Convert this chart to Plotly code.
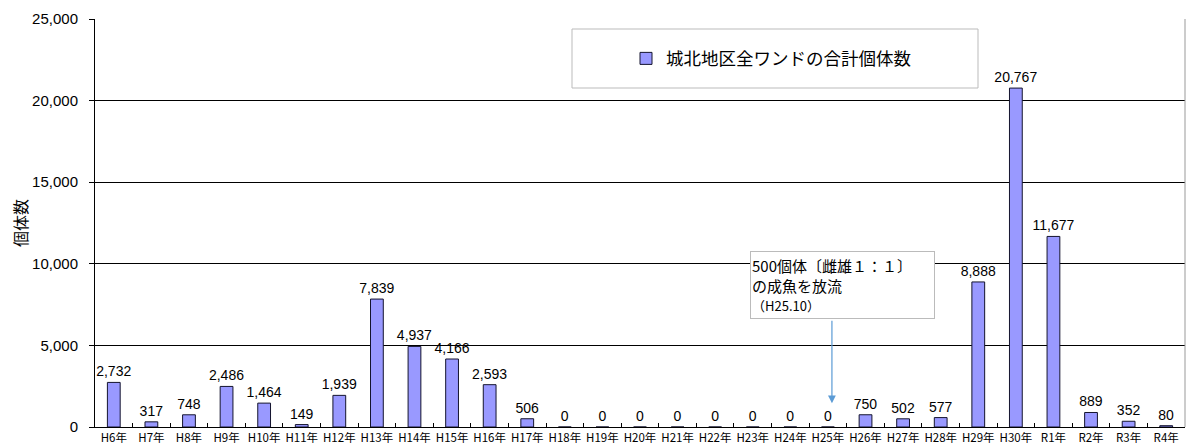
import plotly.graph_objects as go

categories = ["H6年", "H7年", "H8年", "H9年", "H10年", "H11年", "H12年", "H13年", "H14年",
              "H15年", "H16年", "H17年", "H18年", "H19年", "H20年", "H21年", "H22年", "H23年",
              "H24年", "H25年", "H26年", "H27年", "H28年", "H29年", "H30年", "R1年", "R2年",
              "R3年", "R4年"]
counts = [2732, 317, 748, 2486, 1464, 149, 1939, 7839, 4937, 4166, 2593, 506, 0, 0, 0, 0, 0,
          0, 0, 0, 750, 502, 577, 8888, 20767, 11677, 889, 352, 80]
series_name = "城北地区全ワンドの合計個体数"
y_ticks = [0, 5000, 10000, 15000, 20000, 25000]
note_text = "500個体〔雌雄１：１〕<br>の成魚を放流<br><span style='font-size:13px'>（H25.10）</span>"

W, H = 1186, 448
ML, MR, MT, MB = 95, 1, 19, 21
PW, PH = W - ML - MR, H - MT - MB

def px_x(p):
    return (p - ML) / PW

def px_y(p):
    return (H - MB - p) / PH

FONT = "Liberation Sans, Arial, Noto Sans CJK JP, sans-serif"
CJK = "Noto Sans CJK JP, Liberation Sans, sans-serif"

fig = go.Figure()
fig.add_trace(go.Bar(
    x=categories, y=counts, name=series_name,
    width=0.34,
    marker=dict(color="#9999ff", line=dict(color="#14142e", width=1)),
    texttemplate="%{y:,}", textposition="outside", cliponaxis=False,
    constraintext="none",
    textfont=dict(family=FONT, size=14, color="#000"),
    showlegend=True,
))

fig.update_layout(
    width=W, height=H,
    margin=dict(l=ML, r=MR, t=MT, b=MB, autoexpand=False),
    paper_bgcolor="white", plot_bgcolor="white",
    bargap=0.66,
    showlegend=True,
    legend=dict(x=px_x(626), y=px_y(58.5), xanchor="left", yanchor="middle",
                font=dict(family=CJK, size=17.5, color="#000"),
                bgcolor="rgba(0,0,0,0)", borderwidth=0, itemwidth=30),
    xaxis=dict(
        type="category", showline=True, linecolor="#000", linewidth=1,
        ticks="inside", ticklen=4, tickcolor="#000", tickson="boundaries",
        tickangle=0, automargin=False,
        tickfont=dict(family="Liberation Sans Narrow, Arial Narrow, Noto Sans CJK JP, sans-serif",
                      size=11.5, color="#000"),
        showgrid=False, fixedrange=True,
    ),
    yaxis=dict(
        range=[0, 25000], tickvals=y_ticks, tickformat=",",
        showline=True, linecolor="#000", linewidth=1, automargin=False,
        ticks="outside", ticklen=5, tickcolor="#000", ticklabelstandoff=8,
        tickfont=dict(family=FONT, size=15, color="#000"),
        showgrid=True, gridcolor="#000", gridwidth=1,
        zeroline=False,
        title=dict(text="個体数", font=dict(family=CJK, size=16, color="#000"), standoff=0),
    ),
    shapes=[
        dict(type="line", xref="paper", yref="paper", x0=1, x1=1, y0=0, y1=1,
             line=dict(color="#999", width=1)),
        dict(type="rect", xref="paper", yref="paper",
             x0=px_x(572), x1=px_x(978), y0=px_y(88), y1=px_y(29),
             line=dict(color="#bbb", width=1), fillcolor="white", layer="below"),
    ],
    annotations=[
        dict(xref="paper", yref="paper", x=px_x(842.5), y=px_y(285),
             xanchor="center", yanchor="middle", showarrow=False,
             text=note_text, align="left", valign="middle",
             width=181, height=64, bgcolor="white", bordercolor="#bbb", borderwidth=1,
             font=dict(family=CJK, size=15, color="#000")),
        dict(xref="x", yref="y", x="H25年", y=1450, xshift=4, text="",
             showarrow=True, axref="pixel", ayref="pixel", ax=0, ay=-84,
             arrowhead=2, arrowsize=1.3, arrowwidth=1.2, arrowcolor="#5b9bd5"),
    ],
)

fig.write_html("out.html", config={"displayModeBar": False},
               post_script="document.body.style.margin='0';document.body.style.overflow='hidden';")
